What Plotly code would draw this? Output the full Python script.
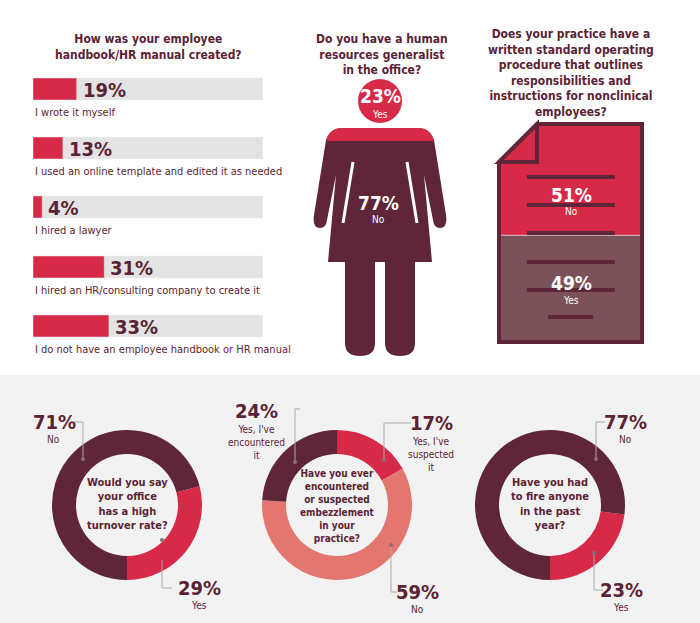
import plotly.graph_objects as go

# ---- data ----
hb_labels = ["I wrote it myself", "I used an online template and edited it as needed",
             "I hired a lawyer", "I hired an HR/consulting company to create it",
             "I do not have an employee handbook or HR manual"]
hb_values = [19, 13, 4, 31, 33]
hr_yes, hr_no = 23, 77
sop_no, sop_yes = 51, 49
turn_labels = ["Yes", "No"]; turn_values = [29, 71]
emb_labels = ["Yes, I've suspected it", "No", "Yes, I've encountered it"]; emb_values = [17, 59, 24]
fire_labels = ["Yes", "No"]; fire_values = [23, 77]

DARK = "#5e2638"; RED = "#d72a48"; SAL = "#e3766f"; GREY = "#e3e3e3"; DOCG = "#7b525a"
TXT = "#5a2333"; FONT = "DejaVu Sans Condensed, Roboto Condensed, Roboto, sans-serif"
W, H = 700, 623

fig = go.Figure()
row_y = [89, 148, 207, 267, 326]

def px(x):
    return x / W
def py(y):
    return 1 - y / H

# handbook bars
fig.add_trace(go.Bar(x=[100]*5, y=row_y, orientation="h", width=22, marker_color=GREY,
                     xaxis="x3", yaxis="y2", hoverinfo="skip"))
fig.add_trace(go.Bar(x=hb_values, y=row_y, orientation="h", width=22, marker_color=RED,
                     xaxis="x3", yaxis="y2"))
# SOP document stacked bars
fig.add_trace(go.Bar(x=[0], y=[sop_yes], marker_color=DOCG, xaxis="x4", yaxis="y4", width=1))
fig.add_trace(go.Bar(x=[0], y=[sop_no], base=[sop_yes], marker_color=RED, xaxis="x4", yaxis="y4", width=1))

def donut(vals, labs, colors, cx, rot):
    r = 75
    fig.add_trace(go.Pie(values=vals, labels=labs, marker=dict(colors=colors, line=dict(width=0)),
                         hole=0.68, sort=False, direction="clockwise", rotation=rot,
                         textinfo="none", showlegend=False,
                         domain=dict(x=[px(cx - r), px(cx + r)], y=[py(505 + r), py(505 - r)])))

donut(turn_values, turn_labels, [RED, DARK], 127, 180 - turn_values[0] * 3.6)
donut(emb_values, emb_labels, [RED, SAL, DARK], 337, 0)
donut(fire_values, fire_labels, [RED, DARK], 550, 180 - fire_values[0] * 3.6)

shapes = []
shapes.append(dict(type="rect", xref="x2", yref="y2", x0=0, x1=700, y0=375, y1=623,
                   fillcolor="#f3f2f2", line_width=0, layer="below"))
# woman
body = ("M 342,128 L 418,128 Q 430,128 434,140 L 446,215 Q 448,228 440,228 Q 434,228 433,220 "
        "L 424,175 L 432,262 L 328,262 L 336,175 L 327,220 Q 326,228 320,228 Q 312,228 314,215 "
        "L 326,140 Q 330,128 342,128 Z")
shapes.append(dict(type="path", xref="x2", yref="y2", path=body, fillcolor=DARK, line_width=0))
for x0, x1 in [(345, 375), (385, 415)]:
    shapes.append(dict(type="path", xref="x2", yref="y2",
                       path=f"M {x0},255 L {x1},255 L {x1},343 Q {x1},356 {(x0+x1)/2},356 Q {x0},356 {x0},343 Z",
                       fillcolor=DARK, line_width=0))
shapes.append(dict(type="path", xref="x2", yref="y2",
                   path="M 342,128 L 418,128 Q 430,128 434,141 L 326,141 Q 330,128 342,128 Z",
                   fillcolor=RED, line_width=0))
for a, b in [((353, 162), (343, 223)), ((407, 162), (417, 223))]:
    shapes.append(dict(type="line", xref="x2", yref="y2", x0=a[0], y0=a[1], x1=b[0], y1=b[1],
                       line=dict(color="white", width=3)))
shapes.append(dict(type="circle", xref="x2", yref="y2", x0=358, x1=402, y0=79, y1=123,
                   fillcolor=RED, line_width=0))
# document
shapes.append(dict(type="path", xref="x2", yref="y2", path="M 497,122 L 539,122 L 497,164 Z",
                   fillcolor="white", line_width=0))
shapes.append(dict(type="path", xref="x2", yref="y2",
                   path="M 537,124 L 642,124 L 642,342 L 499,342 L 499,162 Z",
                   fillcolor="rgba(0,0,0,0)", line=dict(color=DARK, width=4)))
shapes.append(dict(type="path", xref="x2", yref="y2", path="M 537,124 L 537,162 L 499,162 Z",
                   fillcolor=RED, line=dict(color=DARK, width=4)))
for y, x0, x1 in [(177, 527, 615), (205, 527, 615), (233, 527, 615), (262, 527, 615),
                  (290, 527, 615), (317, 548, 593)]:
    shapes.append(dict(type="line", xref="x2", yref="y2", x0=x0, x1=x1, y0=y, y1=y,
                       line=dict(color=DARK, width=4)))
# callouts
callouts = [
    [(71, 422), (83, 422), (83, 459)],
    [(162, 560), (162, 588), (172, 588)],
    [(300, 409), (295, 409), (295, 462)],
    [(411, 423), (384, 423), (384, 460)],
    [(391, 545), (391, 592), (397, 592)],
    [(605, 422), (596, 422), (596, 459)],
    [(594, 553), (594, 590), (603, 590)],
]
for pts in callouts:
    path = "M " + " L ".join(f"{x},{y}" for x, y in pts)
    shapes.append(dict(type="path", xref="x2", yref="y2", path=path,
                       line=dict(color="#a9a9a9", width=1)))
for d in [(83, 459), (162, 540), (295, 462), (384, 460), (391, 545), (596, 459), (594, 553)]:
    shapes.append(dict(type="circle", xref="x2", yref="y2", x0=d[0]-2, x1=d[0]+2,
                       y0=d[1]-2, y1=d[1]+2, fillcolor="#8a7075", line_width=0))

ann = []
def t(x, y, s, size=12, color=TXT, bold=True):
    ann.append(dict(x=x, y=y, xref="x2", yref="y2", text=f"<b>{s}</b>" if bold else s,
                    showarrow=False, font=dict(family=FONT, size=size, color=color),
                    xanchor="center", yanchor="middle"))

t(148, 47, "How was your employee<br>handbook/HR manual created?", 12)
t(382, 54, "Do you have a human<br>resources generalist<br>in the office?", 12)
t(571, 73, "Does your practice have a<br>written standard operating<br>procedure that outlines<br>responsibilities and<br>instructions for nonclinical<br>employees?", 12)
for yv, v, lab in zip(row_y, hb_values, hb_labels):
    ann.append(dict(x=v, y=yv + 1, xref="x3", yref="y2", text=f"<b>{v}%</b>", showarrow=False,
                    xanchor="left", xshift=4, font=dict(family=FONT, size=20, color=TXT)))
    ann.append(dict(x=33, y=yv + 23, xref="x2", yref="y2", text=lab, showarrow=False,
                    xanchor="left", font=dict(family=FONT, size=11, color=TXT)))
t(380, 96, f"{hr_yes}%", 19, "white"); t(380, 114, "Yes", 10, "white", False)
t(378, 203, f"{hr_no}%", 19, "white"); t(378, 219, "No", 10, "white", False)
t(571, 195, f"{sop_no}%", 19, "white"); t(571, 211, "No", 10, "white", False)
t(571, 283, f"{sop_yes}%", 19, "white"); t(571, 300, "Yes", 10, "white", False)

t(127, 504, "Would you say<br>your office<br>has a high<br>turnover rate?", 11)
t(337, 506, "Have you ever<br>encountered<br>or suspected<br>embezzlement<br>in your<br>practice?", 10)
t(550, 504, "Have you had<br>to fire anyone<br>in the past<br>year?", 11)
t(54, 422, f"{turn_values[1]}%", 20); t(53, 439, "No", 10, TXT, False)
t(199, 588, f"{turn_values[0]}%", 20); t(199, 605, "Yes", 10, TXT, False)
t(256, 411, f"{emb_values[2]}%", 20); t(256, 442, "Yes, I've<br>encountered<br>it", 10, TXT, False)
t(431, 423, f"{emb_values[0]}%", 20); t(431, 454, "Yes, I've<br>suspected<br>it", 10, TXT, False)
t(417, 592, f"{emb_values[1]}%", 20); t(417, 609, "No", 10, TXT, False)
t(625, 422, f"{fire_values[1]}%", 20); t(625, 439, "No", 10, TXT, False)
t(621, 590, f"{fire_values[0]}%", 20); t(621, 607, "Yes", 10, TXT, False)

hid = dict(visible=False, showgrid=False, zeroline=False, fixedrange=True)
fig.update_layout(
    width=W, height=H, margin=dict(l=0, r=0, t=0, b=0), showlegend=False,
    paper_bgcolor="white", plot_bgcolor="rgba(0,0,0,0)", barmode="overlay",
    xaxis=dict(hid), yaxis=dict(hid),
    xaxis2=dict(hid, range=[0, W], domain=[0, 1], anchor="y2"),
    yaxis2=dict(hid, range=[H, 0], domain=[0, 1], anchor="x2"),
    xaxis3=dict(hid, range=[0, 100], domain=[px(33), px(263)], anchor="y2"),
    xaxis4=dict(hid, range=[-0.5, 0.5], domain=[px(499), px(642)], anchor="y4"),
    yaxis4=dict(hid, range=[0, 100], domain=[py(342), py(124)], anchor="x4"),
    shapes=shapes, annotations=ann,
)
fig.write_html("out.html", config={"displayModeBar": False},
               post_script="document.body.style.margin='0';document.body.style.overflow='hidden';")
